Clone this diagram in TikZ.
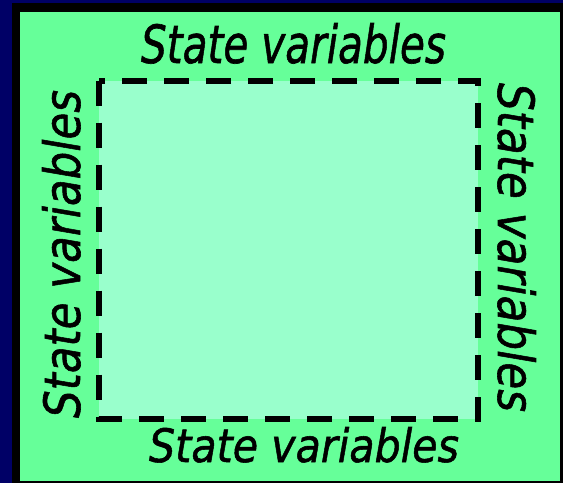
\documentclass[tikz,border=0pt]{standalone}
\usepackage{fontspec}
\usepackage{graphicx}
\newfontfamily\lblfont[FakeBold=1.2]{DejaVu Sans}
\definecolor{navybg}{HTML}{000066}
\definecolor{outergreen}{HTML}{66FF99}
\definecolor{innergreen}{HTML}{99FFCC}
\tikzset{
  lbl/.style={inner sep=0pt, outer sep=0pt, anchor=base west, text=black},
  boundary/.style={draw=black, line width=6pt, dash pattern=on 25pt off 17pt, fill=innergreen}
}
\newcommand{\svtext}[2]{\resizebox{#1pt}{#2pt}{\lblfont\itshape State variables}}
\begin{document}
\begin{tikzpicture}[x=1pt,y=-1pt]
  \useasboundingbox (0,0) rectangle (563,483);
  \fill[navybg] (0,0) rectangle (563,483);
  \fill[black] (12,3) rectangle (563,483);
  \fill[outergreen] (20,12) rectangle (560,481);
  \draw[boundary] (99,80.5) -- (99,418.5) -- (478,418.5) -- (478,80.5) -- cycle;
  \node[lbl] (top) at (141,63) {\svtext{305}{40}};
  \node[lbl] (bottom) at (149,462) {\svtext{310}{35}};
  \node[lbl, rotate=90] (left) at (80,418) {\svtext{328}{38}};
  \node[lbl, rotate=-90] (right) at (498,83) {\svtext{329}{38}};
\end{tikzpicture}
\end{document}
